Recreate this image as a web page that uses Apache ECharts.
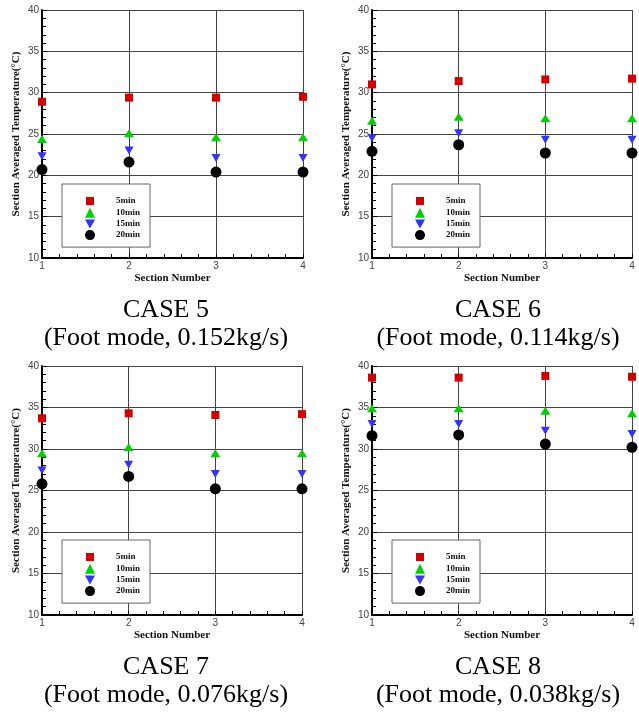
<!DOCTYPE html>
<html>
<head>
<meta charset="utf-8">
<script src="https://cdn.jsdelivr.net/npm/echarts@6/dist/echarts.min.js"></script>
<style>html,body{margin:0;padding:0;background:#fff;}#c{width:639px;height:715px;}</style>
</head>
<body>
<div id="c"></div>
<script>
// ---- data ----
const sections = [1, 2, 3, 4];
const seriesNames = ['5min', '10min', '15min', '20min'];
const yTicks = [10, 15, 20, 25, 30, 35, 40];
const captionsLine1 = ['CASE 5', 'CASE 6', 'CASE 7', 'CASE 8'];
const captionsLine2 = ['(Foot mode, 0.152kg/s)', '(Foot mode, 0.114kg/s)', '(Foot mode, 0.076kg/s)', '(Foot mode, 0.038kg/s)'];

const case5_5min  = [28.9, 29.4, 29.4, 29.5];
const case5_10min = [24.4, 25.1, 24.6, 24.6];
const case5_15min = [22.3, 23.0, 22.1, 22.1];
const case5_20min = [20.7, 21.6, 20.4, 20.4];

const case6_5min  = [31.0, 31.4, 31.6, 31.7];
const case6_10min = [26.6, 27.1, 26.9, 26.9];
const case6_15min = [24.5, 25.1, 24.3, 24.3];
const case6_20min = [22.9, 23.7, 22.7, 22.7];

const case7_5min  = [33.7, 34.3, 34.1, 34.2];
const case7_10min = [29.5, 30.2, 29.5, 29.5];
const case7_15min = [27.4, 28.1, 27.0, 27.0];
const case7_20min = [25.8, 26.7, 25.2, 25.2];

const case8_5min  = [38.6, 38.6, 38.8, 38.7];
const case8_10min = [34.9, 34.9, 34.6, 34.3];
const case8_15min = [33.0, 33.0, 32.2, 31.8];
const case8_20min = [31.6, 31.7, 30.6, 30.2];

const cases = [
  [case5_5min, case5_10min, case5_15min, case5_20min],
  [case6_5min, case6_10min, case6_15min, case6_20min],
  [case7_5min, case7_10min, case7_15min, case7_20min],
  [case8_5min, case8_10min, case8_15min, case8_20min]
];

// ---- styles ----
const grids = [
  {left: 42, top: 10, width: 261, height: 248},
  {left: 372, top: 10, width: 260, height: 248},
  {left: 42, top: 366, width: 260, height: 249},
  {left: 372, top: 366, width: 260, height: 249}
];
const captionX = [166, 498, 166, 498];
const captionTop1 = [297, 297, 654, 654];
const captionTop2 = [325, 325, 682, 682];

const symStyles = [
  {symbol: 'rect', symbolSize: 8, color: '#d40000',
   legendIcon: 'path://M0,0 M10,10 M1,1 L9,1 L9,9 L1,9 Z'},
  {symbol: 'triangle', symbolSize: [10, 8], color: '#00d000', legendIcon: 'triangle'},
  {symbol: 'path://M0,0 L10,0 L5,9 Z', symbolSize: [9, 8], color: '#3333ff', legendIcon: 'path://M0,0 L10,0 L5,9 Z'},
  {symbol: 'circle', symbolSize: 11, color: '#000000', legendIcon: 'circle'}
];

const serif = 'Liberation Serif, Times New Roman, serif';
const sans = 'Liberation Sans, Arial, sans-serif';

const option = {
  backgroundColor: '#ffffff',
  animation: false,
  grid: grids.map(g => Object.assign({containLabel: false}, g)),
  xAxis: grids.map((g, i) => ({
    gridIndex: i, type: 'value', min: 1, max: 4, interval: 1,
    name: 'Section Number', nameLocation: 'middle', nameGap: 15,
    nameTextStyle: {fontFamily: serif, fontWeight: 'bold', fontSize: 11, color: '#111'},
    axisLine: {show: true, onZero: false, lineStyle: {color: '#000', width: 2}},
    axisTick: {show: true, inside: true, length: 4, lineStyle: {color: '#000'}},
    minorTick: {show: true, splitNumber: 5, length: 4, lineStyle: {color: '#000'}},
    axisLabel: {fontFamily: sans, fontSize: 10, color: '#444', margin: 3,
      formatter: v => sections.indexOf(v) >= 0 ? String(v) : ''},
    splitLine: {show: true, lineStyle: {color: '#444', width: 1}}
  })),
  yAxis: grids.map((g, i) => ({
    gridIndex: i, type: 'value', min: 10, max: 40, interval: 5,
    name: 'Section Averaged Temperature(°C)', nameLocation: 'middle', nameGap: 20,
    nameTextStyle: {fontFamily: serif, fontWeight: 'bold', fontSize: 11, color: '#111'},
    axisLine: {show: true, onZero: false, lineStyle: {color: '#000', width: 2}},
    axisTick: {show: true, inside: true, length: 5, lineStyle: {color: '#000'}},
    minorTick: {show: true, splitNumber: 5, length: 4, lineStyle: {color: '#000'}},
    axisLabel: {fontFamily: sans, fontSize: 10, color: '#444', margin: 3,
      formatter: v => yTicks.indexOf(v) >= 0 ? String(v) : ''},
    splitLine: {show: true, lineStyle: {color: '#444', width: 1}}
  })),
  legend: grids.map((g, i) => ({
    orient: 'vertical',
    left: g.left + 20, top: g.top + 174,
    padding: [12, 10, 7, 23],
    itemWidth: 10, itemHeight: 10, itemGap: 1.7,
    backgroundColor: '#fff', borderColor: '#666', borderWidth: 1,
    textStyle: {fontFamily: serif, fontWeight: 'bold', fontSize: 9, color: '#111', padding: [0, 0, 0, 16]},
    data: seriesNames.map((n, k) => ({name: n, icon: symStyles[k].legendIcon})),
    selectedMode: false
  })),
  title: [].concat(
    captionsLine1.map((t, i) => ({
      text: t, left: captionX[i], top: captionTop1[i], textAlign: 'center', padding: 0,
      textStyle: {fontFamily: serif, fontWeight: 'normal', fontSize: 26, color: '#000'}
    })),
    captionsLine2.map((t, i) => ({
      text: t, left: captionX[i], top: captionTop2[i], textAlign: 'center', padding: 0,
      textStyle: {fontFamily: serif, fontWeight: 'normal', fontSize: 26, color: '#000'}
    }))
  ),
  series: []
};

cases.forEach((cs, i) => {
  cs.forEach((vals, k) => {
    option.series.push({
      type: 'scatter', name: seriesNames[k],
      xAxisIndex: i, yAxisIndex: i,
      symbol: symStyles[k].symbol, symbolSize: symStyles[k].symbolSize,
      itemStyle: {color: symStyles[k].color, opacity: 1},
      data: sections.map((s, j) => [s, vals[j]]),
      z: 3 + k
    });
  });
});

const chart = echarts.init(document.getElementById('c'), null, {renderer: 'canvas'});
chart.setOption(option);
</script>
</body>
</html>
